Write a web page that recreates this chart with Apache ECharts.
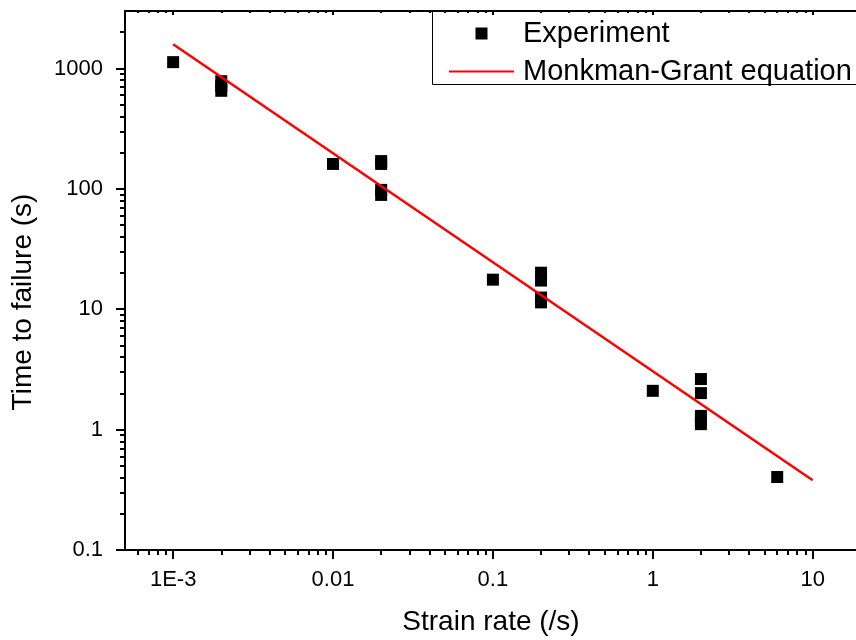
<!DOCTYPE html>
<html>
<head>
<meta charset="utf-8">
<script src="https://cdn.jsdelivr.net/npm/echarts@6/dist/echarts.min.js"></script>
<style>
  html, body { margin: 0; padding: 0; background: #fff; }
  #chart { width: 856px; height: 640px; }
</style>
</head>
<body>
<div id="chart"></div>
<script>
// measured points
const strainRate = [0.001, 0.002, 0.002, 0.002, 0.01, 0.02, 0.02, 0.02, 0.02, 0.1, 0.2, 0.2, 0.2, 0.2, 1, 2, 2, 2, 2, 2, 6];
const timeToFailure = [1128, 783, 715, 652, 161, 170, 161, 98, 89, 17.6, 20.1, 17.3, 12.5, 11.4, 2.1, 2.63, 2.01, 1.3, 1.2, 1.11, 0.404];
// Monkman-Grant fit line (end points)
const fitStrain = [0.001, 10];
const fitTime = [1590, 0.38];

const xTicks = [0.001, 0.01, 0.1, 1, 10];
const xTickLabels = ['1E-3', '0.01', '0.1', '1', '10'];
const yTicks = [0.1, 1, 10, 100, 1000];
const yTickLabels = ['0.1', '1', '10', '100', '1000'];

const font = 'Arial, "Liberation Sans", sans-serif';

// 2..9 minor ticks of every decade inside [lo, hi]
function minorTicks(lo, hi) {
  const out = [];
  for (let k = -5; k <= 4; k++) {
    for (let m = 2; m <= 9; m++) {
      const v = +(m * Math.pow(10, k)).toPrecision(6);
      if (v > lo && v < hi) out.push(v);
    }
  }
  return out;
}

function labelFrom(ticks, labels) {
  return function (v) {
    const i = ticks.findIndex(t => Math.abs(Math.log10(t) - Math.log10(v)) < 1e-6);
    return i >= 0 ? labels[i] : '';
  };
}

// axis runs off the right edge of the picture, so it stops at the canvas edge
const X_MIN = 5e-4, X_MAX = 18.66;
const Y_MIN = 0.1, Y_MAX = 3000;

function axis(opts) {
  return Object.assign({
    type: 'log',
    logBase: 10,
    splitLine: { show: false },
    axisLine: { show: false },
    axisLabel: { show: false },
    axisTick: { show: false }
  }, opts);
}

const line = { color: '#000', width: 2 };

const chart = echarts.init(document.getElementById('chart'));
chart.setOption({
  animation: false,
  backgroundColor: '#fff',
  grid: { left: 125, top: 11, right: 0, height: 539 },
  xAxis: [
    axis({
      position: 'bottom', min: X_MIN, max: X_MAX,
      axisLine: { show: true, onZero: false, lineStyle: line },
      axisTick: { show: true, customValues: xTicks, length: 9, lineStyle: line },
      axisLabel: {
        show: true, customValues: xTicks, margin: 19,
        formatter: labelFrom(xTicks, xTickLabels),
        color: '#000', fontSize: 22, fontFamily: font
      }
    }),
    axis({
      position: 'bottom', min: X_MIN, max: X_MAX,
      axisTick: { show: true, customValues: minorTicks(X_MIN, X_MAX), length: 5, lineStyle: line }
    }),
    axis({
      position: 'top', min: X_MIN, max: X_MAX,
      axisLine: { show: true, onZero: false, lineStyle: line },
      axisTick: { show: true, inside: true, customValues: xTicks, length: 4, lineStyle: line }
    }),
    axis({
      position: 'top', min: X_MIN, max: X_MAX,
      axisTick: { show: true, inside: true, customValues: minorTicks(X_MIN, X_MAX), length: 2, lineStyle: line }
    })
  ],
  yAxis: [
    axis({
      position: 'left', min: Y_MIN, max: Y_MAX,
      axisLine: { show: true, onZero: false, lineStyle: line },
      axisTick: { show: true, customValues: yTicks, length: 9, lineStyle: line },
      axisLabel: {
        show: true, customValues: yTicks, margin: 22,
        formatter: labelFrom(yTicks, yTickLabels),
        color: '#000', fontSize: 22, fontFamily: font
      }
    }),
    axis({
      position: 'left', min: Y_MIN, max: Y_MAX,
      axisTick: { show: true, customValues: minorTicks(Y_MIN, Y_MAX), length: 5, lineStyle: line }
    })
  ],
  legend: {
    orient: 'vertical',
    left: 432, top: 11,
    padding: [8, 0, 2, 17],
    itemWidth: 65, itemHeight: 12, itemGap: 9,
    borderWidth: 0,
    textStyle: { color: '#000', fontSize: 29, fontFamily: font, padding: [0, 0, 0, 4] },
    data: [
      { name: 'Experiment', icon: 'path://M0,0L10,0L10,10L0,10Z' },
      { name: 'Monkman-Grant equation', icon: 'path://M0,0L65,0L65,2L0,2Z' }
    ]
  },
  graphic: [
    {
      // legend frame, runs past the right edge like the original
      type: 'rect', z: 10,
      shape: { x: 432.5, y: 11.5, width: 500, height: 73 },
      style: { fill: 'none', stroke: '#000', lineWidth: 1 }
    },
    {
      type: 'text', x: 491, y: 622,
      style: { text: 'Strain rate (/s)', align: 'center', verticalAlign: 'middle', fontSize: 28, fontFamily: font, fill: '#000' }
    },
    {
      type: 'text', x: 23, y: 302, rotation: Math.PI / 2,
      style: { text: 'Time to failure (s)', align: 'center', verticalAlign: 'middle', fontSize: 28, fontFamily: font, fill: '#000' }
    }
  ],
  series: [
    {
      name: 'Experiment',
      type: 'scatter',
      symbol: 'rect',
      symbolSize: 12,
      symbolKeepAspect: true,
      itemStyle: { color: '#000', opacity: 1 },
      data: strainRate.map((x, i) => [x, timeToFailure[i]]),
      z: 2
    },
    {
      name: 'Monkman-Grant equation',
      type: 'line',
      symbol: 'none',
      symbolKeepAspect: true,
      lineStyle: { color: '#ff0000', width: 2.5 },
      itemStyle: { color: '#ff0000' },
      data: fitStrain.map((x, i) => [x, fitTime[i]]),
      z: 3
    }
  ]
});
</script>
</body>
</html>
